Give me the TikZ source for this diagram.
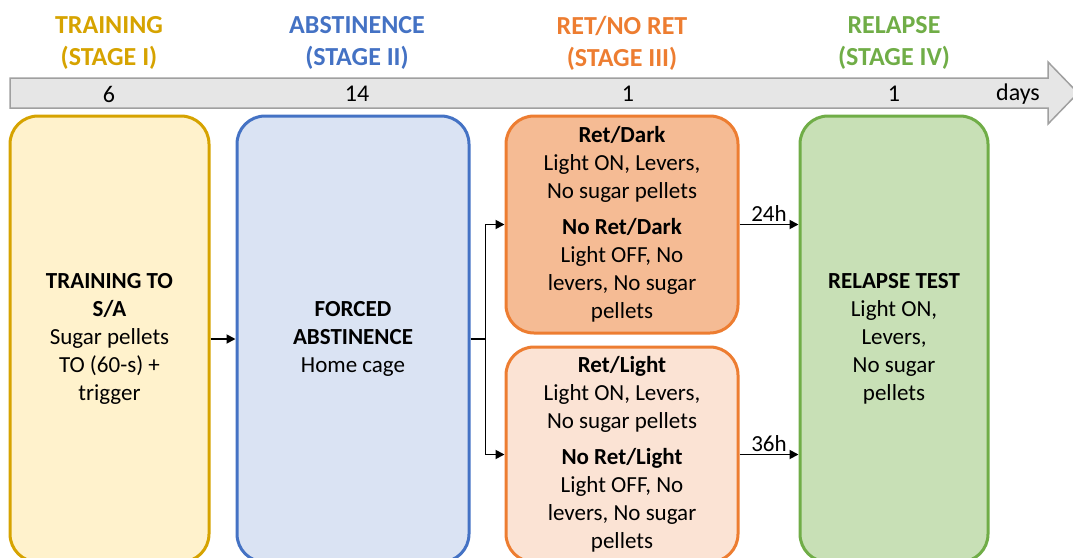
\documentclass[tikz,border=0pt]{standalone}
\usepackage{fontspec}
\setmainfont{Carlito}
\usetikzlibrary{arrows.meta,positioning}
\definecolor{goldLine}{HTML}{D6A300}
\definecolor{goldFill}{HTML}{FFF2CC}
\definecolor{blueLine}{HTML}{4472C4}
\definecolor{blueFill}{HTML}{DAE3F3}
\definecolor{orangeLine}{HTML}{ED7D31}
\definecolor{orangeDark}{HTML}{F5BB94}
\definecolor{orangeLight}{HTML}{FBE3D4}
\definecolor{greenLine}{HTML}{70AD47}
\definecolor{greenFill}{HTML}{C8E0B6}
\definecolor{barFill}{HTML}{E6E6E6}
\definecolor{barLine}{HTML}{A0A0A0}
\newcommand{\retState}[4]{
	\textbf{#1}\\
	#2\\[8pt]
	\textbf{#3}\\
	#4
}
\begin{document}
\begin{tikzpicture}%
		[
			x=1pt, y=-1pt,
			every text node part/.style={align=center},
			stage/.style={
				draw,
				rectangle,
				rounded corners=28,
				line width=3,
				inner sep=0,
				font={\fontsize{23}{28}\selectfont},
			},
			header/.style={font={\fontsize{26}{32}\selectfont\bfseries}},
			days/.style={font={\fontsize{24}{28}\selectfont}},
			flow/.style={-{Triangle[length=9,width=9]}, line width=1.8},
			delay/.style={font={\fontsize{23}{28}\selectfont},midway,above,inner sep=2},
		]
		\useasboundingbox (0,0) rectangle (1073,557);
		\clip (0,0) rectangle (1073,557);
		% timeline bar
		\draw[fill=barFill, draw=barLine, line width=1.5]
		(10,78) -- (1048,78) -- (1048,62) -- (1078,93)
		-- (1048,124) -- (1048,108) -- (10,108) -- cycle;
		\node[days] (d1) at (109,94) {6};
		\node[days] (d2) at (357,94) {14};
		\node[days] (d3) at (628,94) {1};
		\node[days] (d4) at (894,94) {1};
		\node[days] (unit) at (1018,94) {days};
		% headers
		\node[header, goldLine] (h1) at (109,43) {TRAINING\\(STAGE I)};
		\node[header, blueLine] (h2) at (357,43) {ABSTINENCE\\(STAGE II)};
		\node[header, orangeLine] (h3) at (622,43) {RET/NO RET\\(STAGE III)};
		\node[header, greenLine] (h4) at (894,43) {RELAPSE\\(STAGE IV)};
		% stages
		\node[stage, draw=goldLine, fill=goldFill,
		minimum width=199, minimum height=446]
		(train) at (109.5,339)
		{\textbf{TRAINING TO}\\\textbf{S/A}\\Sugar pellets\\TO (60-s) +\\trigger};
		\node[stage, draw=blueLine, fill=blueFill,
		minimum width=232, minimum height=446]
		(abst) at (353,339)
		{\textbf{FORCED}\\\textbf{ABSTINENCE}\\Home cage};
		\node[stage, draw=orangeLine, fill=orangeDark,
		minimum width=232, minimum height=217]
		(retdark) at (622,224.5)
		{\retState{Ret/Dark}{Light ON, Levers,\\No sugar pellets}
			{No Ret/Dark}{Light OFF, No\\levers, No sugar\\pellets}};
		\node[stage, draw=orangeLine, fill=orangeLight,
		minimum width=232, minimum height=215]
		(retlight) at (622,454.5)
		{\retState{Ret/Light}{Light ON, Levers,\\No sugar pellets}
			{No Ret/Light}{Light OFF, No\\levers, No sugar\\pellets}};
		\node[stage, draw=greenLine, fill=greenFill,
		minimum width=188, minimum height=446]
		(relapse) at (894,339)
		{\textbf{RELAPSE TEST}\\Light ON,\\Levers,\\No sugar\\pellets};
		% connectors
		\draw[flow] (train) -- (abst);
		\draw[line width=1.8] (abst.east) -- ++(15,0) coordinate (fork);
		\draw[flow] (fork) |- (retdark.west);
		\draw[flow] (fork) |- (retlight.west);
		\draw[flow] (retdark.east) -- (relapse.west |- retdark.east)
		node[delay]{24h};
		\draw[flow] (retlight.east) -- (relapse.west |- retlight.east)
		node[delay]{36h};
	\end{tikzpicture}
\end{document}
